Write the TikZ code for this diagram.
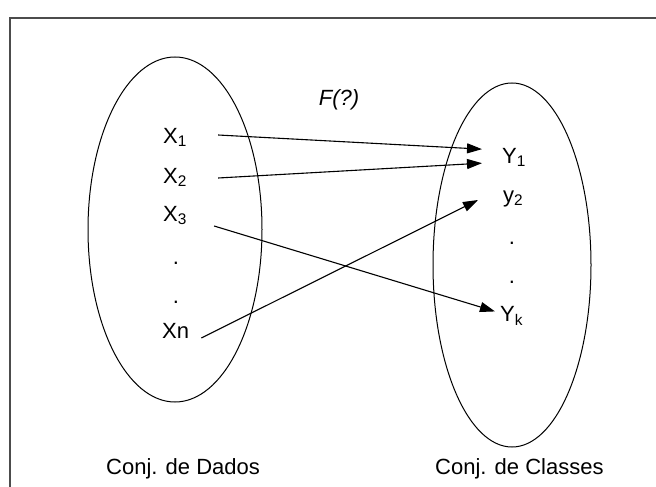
\documentclass[tikz,border=0pt]{standalone}
\usepackage{fontspec}
\setmainfont{Liberation Sans}
\usetikzlibrary{arrows.meta,positioning}

\begin{document}
\begin{tikzpicture}[x=1pt,y=-1pt,
  elem/.style={inner sep=0pt,anchor=base west,font=\fontsize{22}{26}\selectfont},
  gap/.style={inner sep=0pt,anchor=base,font=\fontsize{22}{26}\selectfont},
  setname/.style={inner sep=0pt,anchor=base west,font=\fontsize{22}{26}\selectfont},
  arr/.style={-{Triangle[length=15pt,width=10pt]},line width=1.1pt}
]
  \useasboundingbox (0,0) rectangle (656,487);
  % frame
  \draw[line width=1.8pt,black!70] (10,490) -- (10,18) -- (660,18);
  % the two sets
  \draw[line width=1pt] (175,229.5) ellipse [x radius=87,y radius=172.5];
  \draw[line width=1pt] (512,265) ellipse [x radius=79,y radius=182];
  % data elements
  \node[elem] (x1) at (163,143) {X\textsubscript{1}};
  \node[elem] (x2) at (163,183) {X\textsubscript{2}};
  \node[elem] (x3) at (163,221) {X\textsubscript{3}};
  \node[gap] (d1) at (176,264.5) {.};
  \node[gap] (d2) at (176,303.5) {.};
  \node[elem] (xn) at (162,338) {Xn};
  % classes
  \node[elem] (y1) at (502,163) {Y\textsubscript{1}};
  \node[elem] (y2) at (503,202) {y\textsubscript{2}};
  \node[gap] (d3) at (512,244) {.};
  \node[gap] (d4) at (512,283) {.};
  \node[elem] (yk) at (500,321) {Y\textsubscript{k}};
  \node[gap,font=\fontsize{22}{26}\selectfont\itshape] (f) at (339,106) {F(?)};
  % mapping
  \draw[arr] ([xshift=31pt,yshift=8pt]x1.base east) -- ([xshift=-20pt,yshift=8pt]y1.west);
  \draw[arr] ([xshift=31pt,yshift=5pt]x2.base east) -- ([xshift=-20pt,yshift=-6pt]y1.west);
  \draw[arr] ([xshift=27pt,yshift=-5pt]x3.base east) -- ([xshift=-5pt,yshift=4pt]yk.west);
  \draw[arr] ([xshift=12pt]xn.base east) -- ([xshift=-25pt,yshift=2pt]y2.base west);
  % set names
  \node[setname] (dados) at (106,474) {Conj. de Dados};
  \node[setname] (classes) at (435,474) {Conj. de Classes};
\end{tikzpicture}
\end{document}
